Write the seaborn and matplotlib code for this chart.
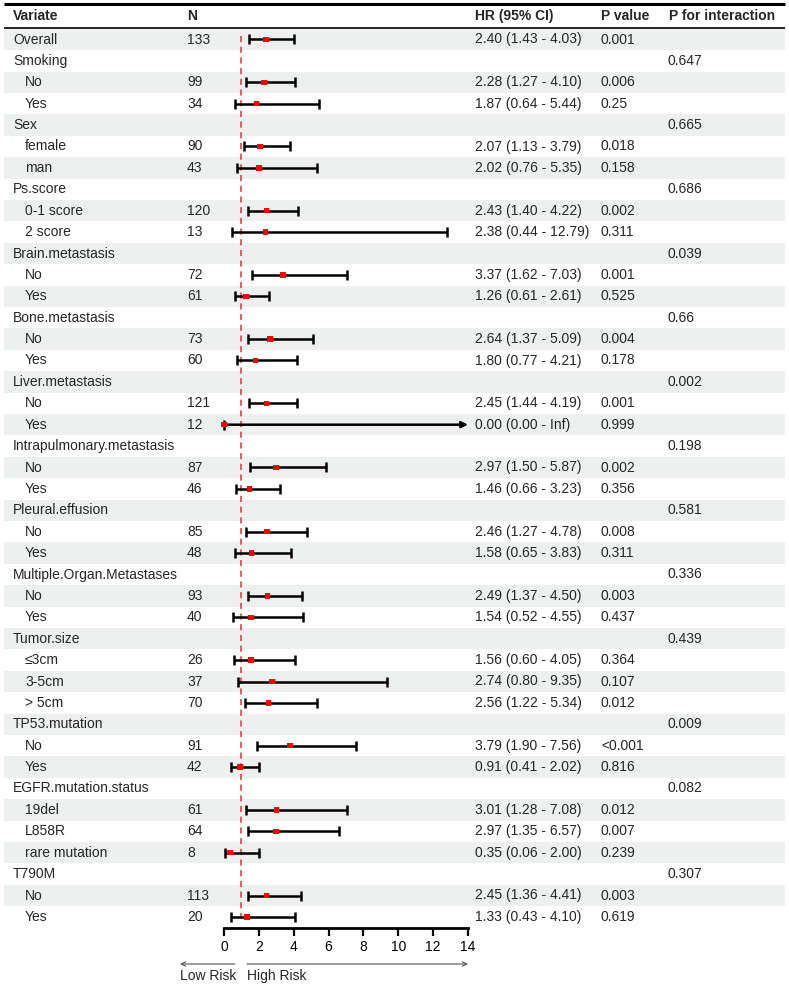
import numpy as np
import pandas as pd
import matplotlib
matplotlib.use("Agg")
import matplotlib.pyplot as plt
import seaborn as sns

labels = ["Overall", "Smoking", "No", "Yes", "Sex", "female", "man",
          "Ps.score", "0-1 score", "2 score", "Brain.metastasis", "No", "Yes",
          "Bone.metastasis", "No", "Yes", "Liver.metastasis", "No", "Yes",
          "Intrapulmonary.metastasis", "No", "Yes", "Pleural.effusion", "No", "Yes",
          "Multiple.Organ.Metastases", "No", "Yes", "Tumor.size", "≤3cm", "3-5cm", "> 5cm",
          "TP53.mutation", "No", "Yes", "EGFR.mutation.status", "19del", "L858R",
          "rare mutation", "T790M", "No", "Yes"]
is_sub = [0, 0, 1, 1, 0, 1, 1, 0, 1, 1, 0, 1, 1, 0, 1, 1, 0, 1, 1, 0, 1, 1, 0, 1, 1,
          0, 1, 1, 0, 1, 1, 1, 0, 1, 1, 0, 1, 1, 1, 0, 1, 1]
n_vals = [133, None, 99, 34, None, 90, 43, None, 120, 13, None, 72, 61, None, 73, 60,
          None, 121, 12, None, 87, 46, None, 85, 48, None, 93, 40, None, 26, 37, 70,
          None, 91, 42, None, 61, 64, 8, None, 113, 20]
hr = [2.40, None, 2.28, 1.87, None, 2.07, 2.02, None, 2.43, 2.38, None, 3.37, 1.26,
      None, 2.64, 1.80, None, 2.45, 0.00, None, 2.97, 1.46, None, 2.46, 1.58,
      None, 2.49, 1.54, None, 1.56, 2.74, 2.56, None, 3.79, 0.91, None, 3.01, 2.97,
      0.35, None, 2.45, 1.33]
lower = [1.43, None, 1.27, 0.64, None, 1.13, 0.76, None, 1.40, 0.44, None, 1.62, 0.61,
         None, 1.37, 0.77, None, 1.44, 0.00, None, 1.50, 0.66, None, 1.27, 0.65,
         None, 1.37, 0.52, None, 0.60, 0.80, 1.22, None, 1.90, 0.41, None, 1.28, 1.35,
         0.06, None, 1.36, 0.43]
upper = [4.03, None, 4.10, 5.44, None, 3.79, 5.35, None, 4.22, 12.79, None, 7.03, 2.61,
         None, 5.09, 4.21, None, 4.19, np.inf, None, 5.87, 3.23, None, 4.78, 3.83,
         None, 4.50, 4.55, None, 4.05, 9.35, 5.34, None, 7.56, 2.02, None, 7.08, 6.57,
         2.00, None, 4.41, 4.10]
p_value = ["0.001", "", "0.006", "0.25", "", "0.018", "0.158", "", "0.002", "0.311",
           "", "0.001", "0.525", "", "0.004", "0.178", "", "0.001", "0.999", "",
           "0.002", "0.356", "", "0.008", "0.311", "", "0.003", "0.437", "",
           "0.364", "0.107", "0.012", "", "<0.001", "0.816", "", "0.012", "0.007",
           "0.239", "", "0.003", "0.619"]
p_inter = ["", "0.647", "", "", "0.665", "", "", "0.686", "", "", "0.039", "", "",
           "0.66", "", "", "0.002", "", "", "0.198", "", "", "0.581", "", "",
           "0.336", "", "", "0.439", "", "", "", "0.009", "", "", "0.082", "", "", "",
           "0.307", "", ""]
headers = ["Variate", "N", "HR (95% CI)", "P value", "P for interaction"]
x_ticks = [0, 2, 4, 6, 8, 10, 12, 14]

df = pd.DataFrame({"label": labels, "sub": is_sub, "n": n_vals, "hr": hr,
                   "lower": lower, "upper": upper, "p": p_value, "pint": p_inter})
df["row"] = np.arange(len(df))

sns.set_theme(style="white")
plt.rcParams["font.family"] = ["Liberation Sans", "DejaVu Sans"]
plt.rcParams["font.size"] = 10

W, H = 789, 986
fig = plt.figure(figsize=(W / 100, H / 100), dpi=100)

# layout (pixels)
row0 = 39.5
rowh = 21.4
def ypx(i):
    return row0 + rowh * i

tab = fig.add_axes([0, 0, 1, 1])
tab.set_xlim(0, W)
tab.set_ylim(H, 0)
tab.axis("off")

shade = "#EEF0EF"
for i in df["row"]:
    if i % 2 == 0:
        tab.add_patch(plt.Rectangle((4, ypx(i) - rowh / 2), 781, rowh,
                                    facecolor=shade, edgecolor="none", zorder=0))

# header
tab.plot([4, 785], [4, 4], color="black", lw=2.2, solid_capstyle="butt")
tab.plot([4, 785], [28.3, 28.3], color="black", lw=1.2, solid_capstyle="butt")
hx = [13, 187, 475, 601, 669]
for x, t in zip(hx, headers):
    tab.text(x, 16, t, fontsize=10, fontweight="bold", va="center", ha="left")

for _, r in df.iterrows():
    y = ypx(r["row"])
    tab.text(25 if r["sub"] else 13, y, r["label"], va="center", ha="left", fontsize=10)
    if r["n"] is not None and not pd.isna(r["n"]):
        tab.text(187, y, f"{int(r['n'])}", va="center", ha="left", fontsize=10)
    if r["hr"] is not None and not pd.isna(r["hr"]):
        up = "Inf" if np.isinf(r["upper"]) else f"{r['upper']:.2f}"
        tab.text(475, y, f"{r['hr']:.2f} ({r['lower']:.2f} - {up})",
                 va="center", ha="left", fontsize=10)
    if r["p"]:
        tab.text(601, y, r["p"], va="center", ha="left", fontsize=10)
    if r["pint"]:
        tab.text(668, y, r["pint"], va="center", ha="left", fontsize=10)

# forest axes
x0_px, x1_px = 224, 468
top_px, bot_px = ypx(-0.5), 928
ax = fig.add_axes([x0_px / W, 1 - bot_px / H, (x1_px - x0_px) / W, (bot_px - top_px) / H])
ax.patch.set_alpha(0)
ax.set_xlim(0, 14)
ax.set_ylim(-0.5 + (bot_px - top_px) / rowh, -0.5)

est = df.dropna(subset=["hr"]).copy()
fin = est[np.isfinite(est["upper"])]
inf = est[~np.isfinite(est["upper"])]

ax.vlines(1, -0.15, len(df) - 1 + 0.15, colors="#E8302A", linestyles=(0, (4, 3)), lw=1.1, zorder=1)
ax.errorbar(fin["hr"], fin["row"],
            xerr=[fin["hr"] - fin["lower"], fin["upper"] - fin["hr"]],
            fmt="none", ecolor="black", elinewidth=1.8, capsize=3.6, capthick=1.8, zorder=2)
for _, r in inf.iterrows():
    ax.annotate("", xy=(ax.get_xlim()[1], r["row"]), xytext=(r["lower"], r["row"]),
                arrowprops=dict(arrowstyle="-|>", color="black", lw=1.8, mutation_scale=9,
                                shrinkA=0, shrinkB=0), annotation_clip=False, zorder=2)
    ax.plot([r["lower"]], [r["row"]], marker="|", markersize=7.2, mew=1.8,
            color="black", clip_on=False, zorder=2)

sns.scatterplot(data=est, x="hr", y="row", marker="s", color="red", s=16,
                edgecolor="none", ax=ax, zorder=3, clip_on=False, legend=False)
ax.set_ylim(-0.5 + (bot_px - top_px) / rowh, -0.5)

for s in ["left", "top", "right"]:
    ax.spines[s].set_visible(False)
ax.spines["bottom"].set_linewidth(2)
ax.spines["bottom"].set_color("black")
ax.set_yticks([])
ax.set_xticks(x_ticks)
ax.set_xticklabels([str(t) for t in x_ticks], fontsize=10)
ax.tick_params(axis="x", direction="out", length=6, width=1.6, pad=2.5,
               bottom=True, colors="black")
ax.set_xlabel("")
ax.set_ylabel("")

# risk arrows
tab.annotate("", xy=(180, 964), xytext=(235, 964),
             arrowprops=dict(arrowstyle="->", color="#555555", lw=0.8, mutation_scale=8,
                             shrinkA=0, shrinkB=0))
tab.annotate("", xy=(468, 964), xytext=(247, 964),
             arrowprops=dict(arrowstyle="->", color="#555555", lw=0.8, mutation_scale=8,
                             shrinkA=0, shrinkB=0))
tab.text(180, 976, "Low Risk", va="center", ha="left", fontsize=10)
tab.text(247, 976, "High Risk", va="center", ha="left", fontsize=10)

fig.savefig("out.png", dpi=100)
